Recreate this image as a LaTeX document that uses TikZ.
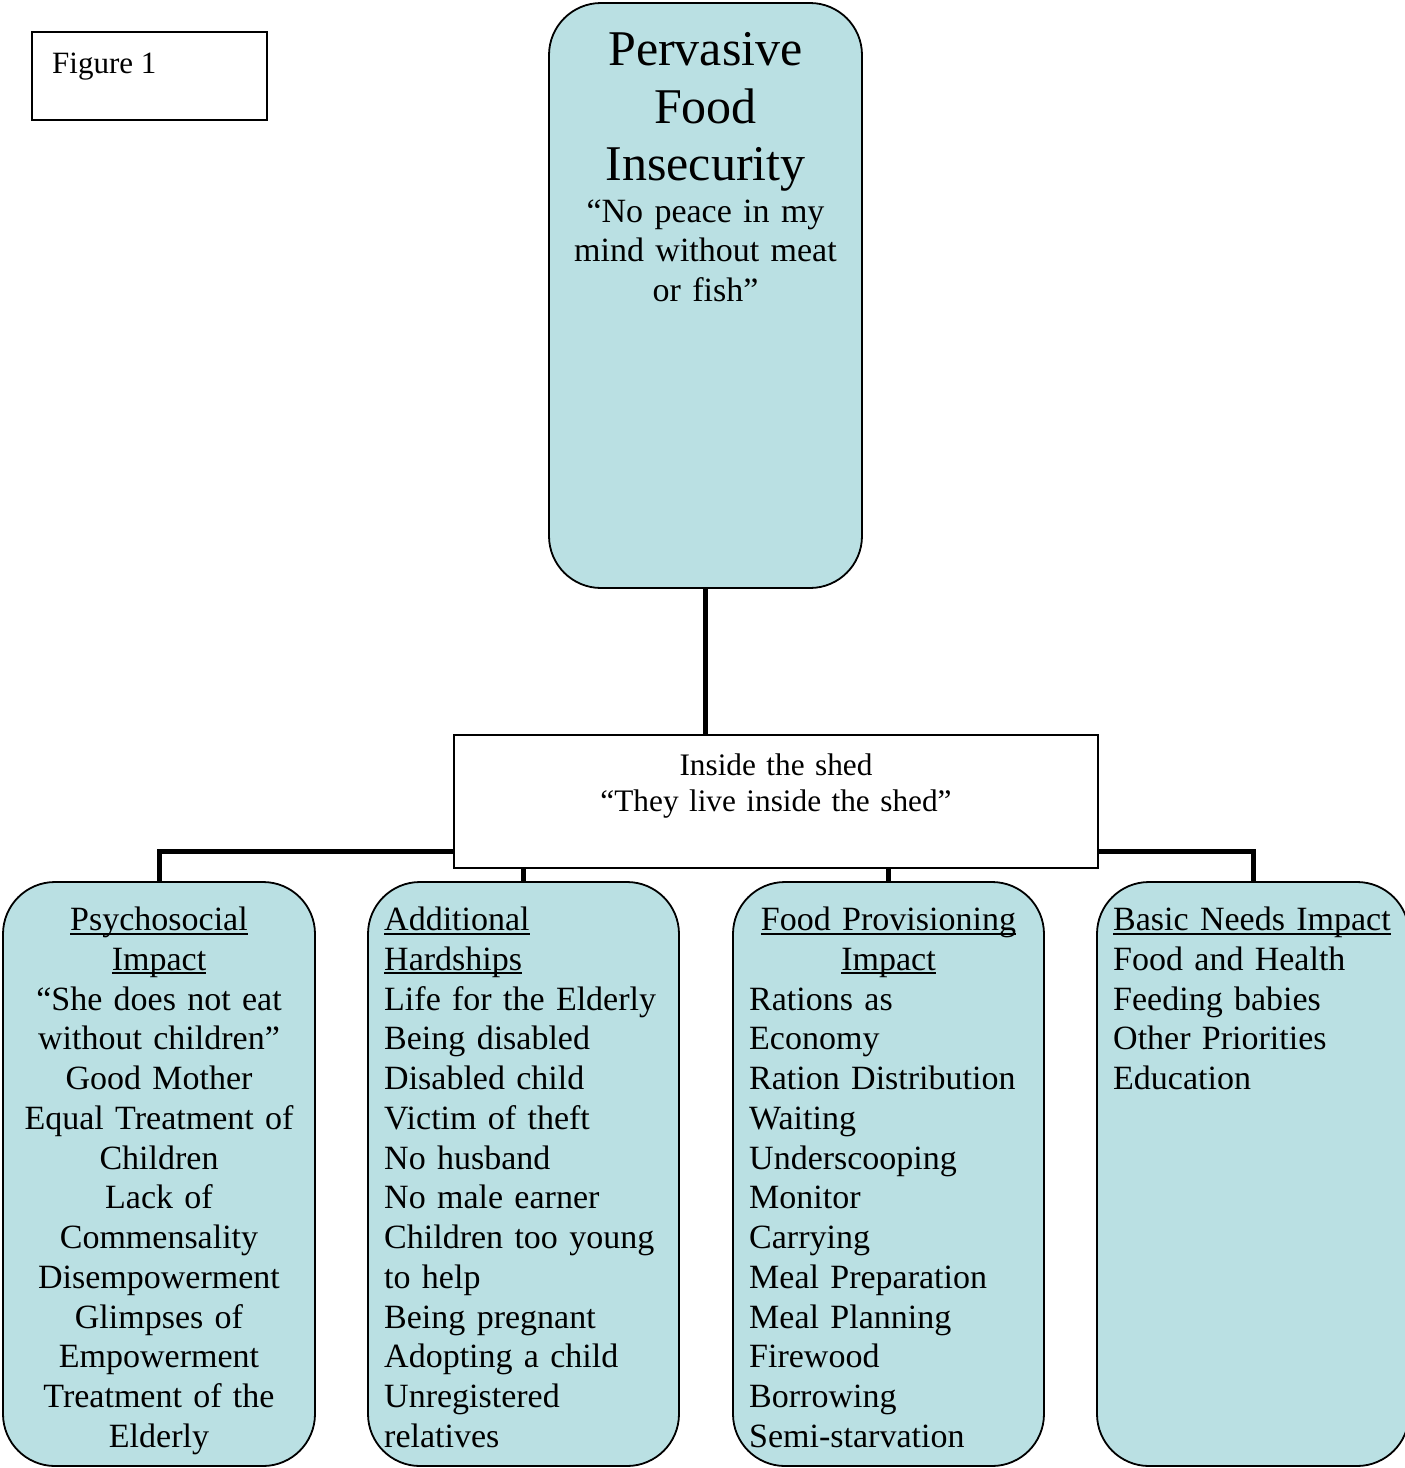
\documentclass[tikz,border=0pt]{standalone}
\usepackage{fontspec}
\setmainfont{Liberation Serif}
\definecolor{boxblue}{RGB}{186,224,227}
\newcommand{\myul}[1]{\setbox0\hbox{#1}\makebox[0pt][l]{\rule[-4.2pt]{\wd0}{2pt}}\box0}
\begin{document}
\begin{tikzpicture}[x=1pt,y=-1pt,
  bluebox/.style={draw=black, line width=1.8pt, fill=boxblue, rounded corners=52pt, inner sep=0pt, outer sep=0pt},
  plainbox/.style={draw=black, line width=1.8pt, fill=white, inner sep=0pt, outer sep=0pt},
  conn/.style={line width=5pt},
  big/.style={font=\fontsize{50}{57.6}\selectfont},
  body/.style={font=\fontsize{34}{39.75}\selectfont, inner sep=0pt},
  mtext/.style={font=\fontsize{31.3}{36.5}\selectfont, inner sep=0pt}
]
\useasboundingbox (0,0) rectangle (1405,1468);

% boxes
\node[plainbox, minimum width=235pt, minimum height=88pt] (fig) at (149.5,76) {};
\node[bluebox, minimum width=313pt, minimum height=585pt] (top) at (705.5,295.5) {};
\node[plainbox, minimum width=644pt, minimum height=133pt] (mid) at (776,801.5) {};
\node[bluebox, minimum width=312pt, minimum height=584pt] (b1) at (159,1174) {};
\node[bluebox, minimum width=311pt, minimum height=584pt] (b2) at (523.5,1174) {};
\node[bluebox, minimum width=311pt, minimum height=584pt] (b3) at (888.5,1174) {};
\node[bluebox, minimum width=312pt, minimum height=584pt] (b4) at (1253,1174) {};

% connectors
\coordinate (jl) at (454,851.5);
\coordinate (jr) at (1098,851.5);
\draw[conn] (top.south) -- (top.south |- mid.north);
\draw[conn] (jl) -| (b1.north);
\draw[conn] (jr) -| (b4.north);
\draw[conn] (mid.south -| b2.north) -- (b2.north);
\draw[conn] (mid.south -| b3.north) -- (b3.north);

% texts
\node[font=\fontsize{31}{36}\selectfont, inner sep=0pt, anchor=base west] (figt) at (52,73) {Figure 1};

\node[big, inner sep=0pt, text width=310pt, align=center, anchor=base] (topt) at (705.5,65.5)
  {Pervasive\\Food\\Insecurity};
\node[body, text width=310pt, align=center, anchor=base] (topq) at (705.5,222)
  {“No peace in my\\mind without meat\\or fish”};

\node[mtext, text width=600pt, align=center, anchor=base] (midt) at (776,775)
  {Inside the shed\\“They live inside the shed”};

\node[body, text width=300pt, align=center, anchor=base] (t1) at (159,930.5)
  {\myul{Psychosocial}\\\myul{Impact}\\“She does not eat\\without children”\\Good Mother\\Equal Treatment of\\Children \\Lack of\\Commensality\\Disempowerment\\Glimpses of\\Empowerment\\Treatment of the\\Elderly};

\node[body, text width=300pt, align=left, anchor=base west] (t2) at (384,930.5)
  {\myul{Additional}\\\myul{Hardships}\\Life for the Elderly\\Being disabled\\Disabled child\\Victim of theft\\No husband\\No male earner\\Children too young\\to help\\Being pregnant\\Adopting a child\\Unregistered\\relatives};

\node[body, text width=300pt, align=center, anchor=base] (t3h) at (888.5,930.5)
  {\myul{Food Provisioning}\\\myul{Impact}};
\node[body, text width=290pt, align=left, anchor=base west] (t3) at (749,1010)
  {Rations as\\Economy\\Ration Distribution\\Waiting\\Underscooping\\Monitor\\Carrying\\Meal Preparation\\Meal Planning\\Firewood\\Borrowing\\Semi-starvation};

\node[body, text width=295pt, align=left, anchor=base west] (t4) at (1113,930.5)
  {\myul{Basic Needs Impact}\\Food and Health\\Feeding babies\\Other Priorities\\Education};
\end{tikzpicture}
\end{document}
